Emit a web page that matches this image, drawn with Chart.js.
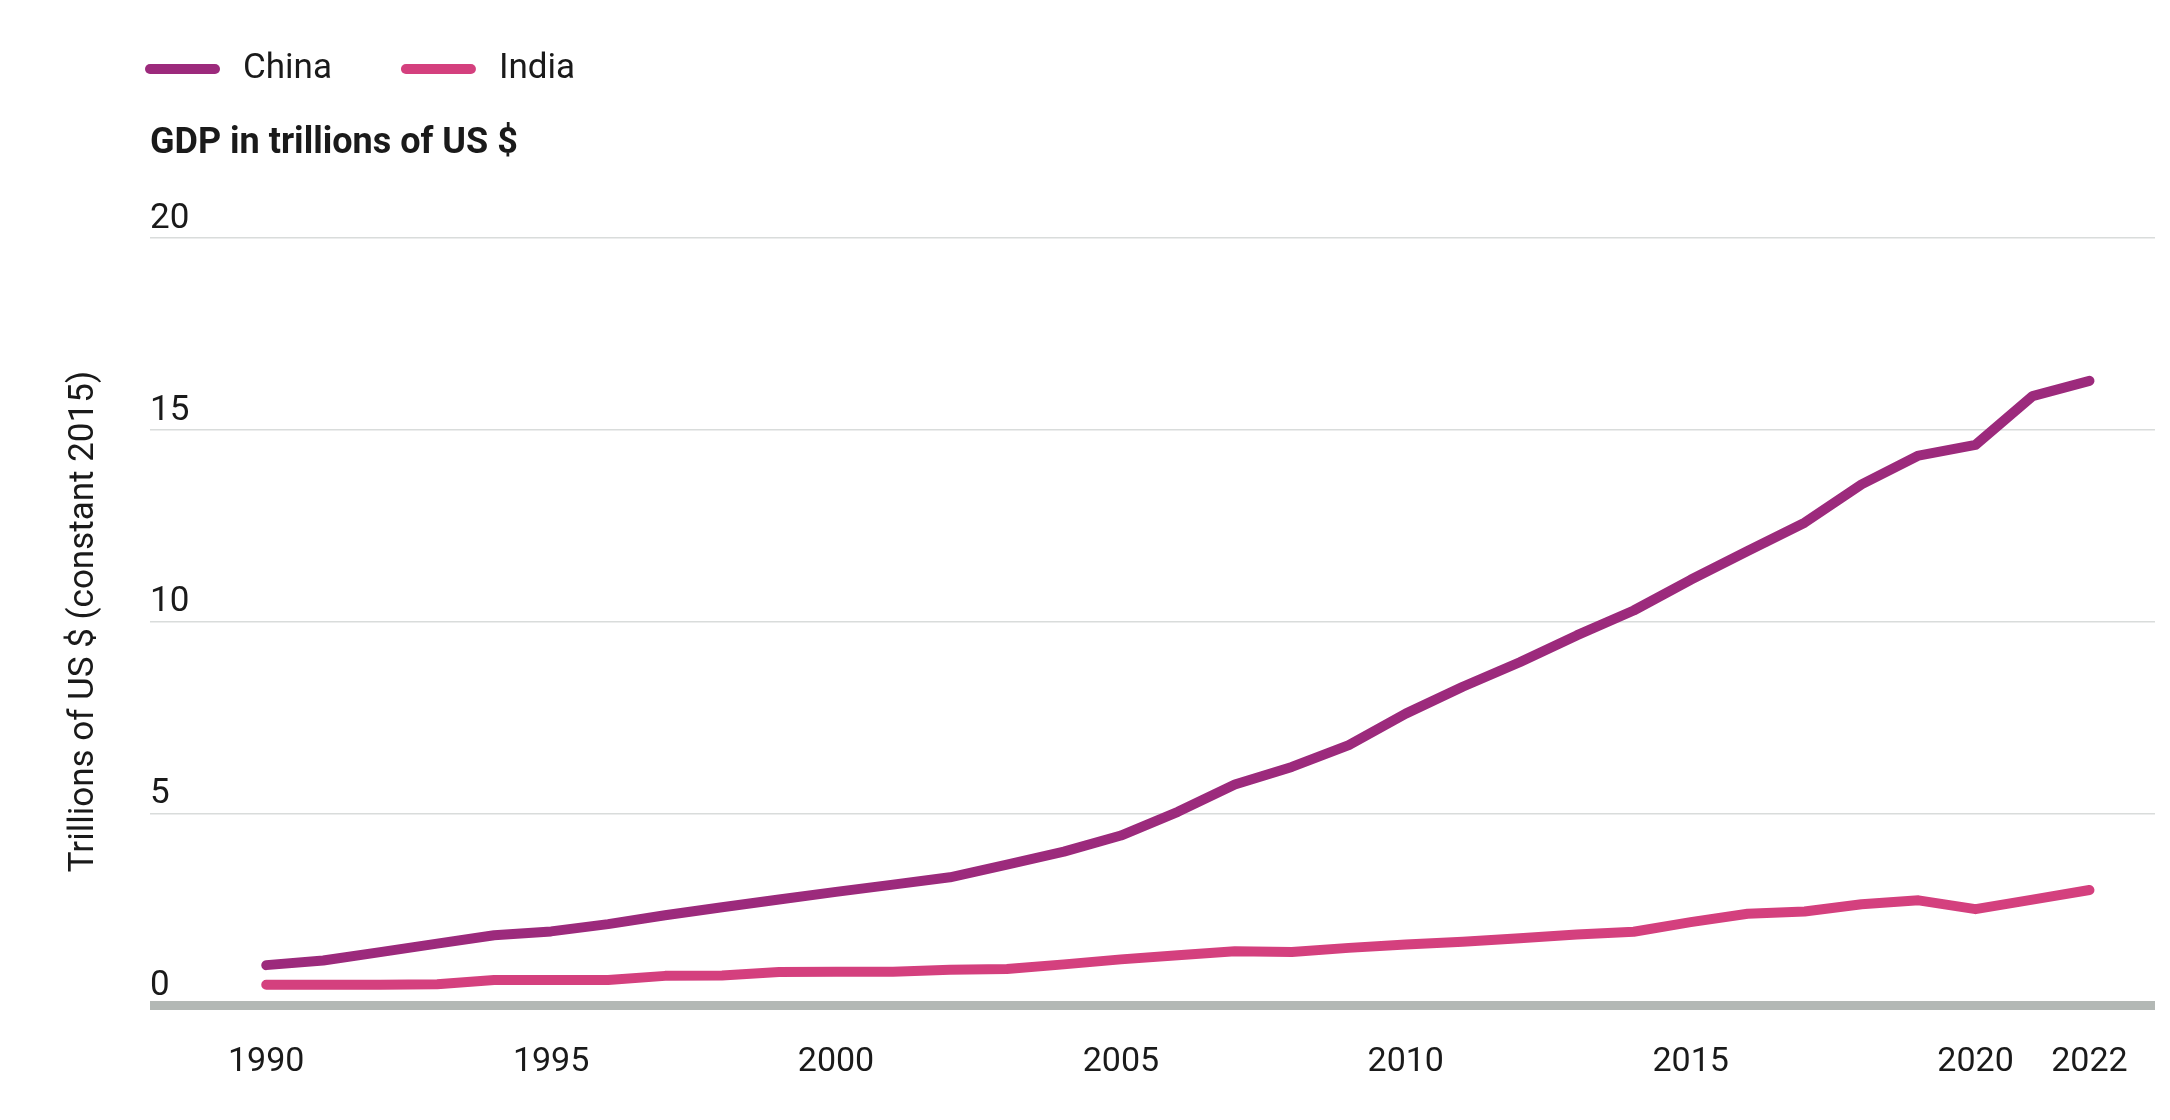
<!DOCTYPE html>
<html>
<head>
<meta charset="utf-8">
<title>GDP China and India</title>
<script src="https://cdn.jsdelivr.net/npm/chart.js@4.4.1/dist/chart.umd.min.js"></script>
<style>
  html, body { margin: 0; padding: 0; background: #fff; }
  #wrap { width: 2170px; height: 1120px; }
</style>
</head>
<body>
<div id="wrap"><canvas id="gdpChart" width="2170" height="1120"></canvas></div>
<script>
const years = [1990, 1991, 1992, 1993, 1994, 1995, 1996, 1997, 1998, 1999, 2000, 2001,
  2002, 2003, 2004, 2005, 2006, 2007, 2008, 2009, 2010, 2011, 2012, 2013, 2014, 2015,
  2016, 2017, 2018, 2019, 2020, 2021, 2022];
const chinaGdp = [1.04, 1.16, 1.38, 1.60, 1.82, 1.92, 2.11, 2.34, 2.55, 2.75, 2.95, 3.14,
  3.33, 3.66, 4.00, 4.42, 5.04, 5.75, 6.21, 6.78, 7.60, 8.30, 8.94, 9.64, 10.29, 11.09,
  11.84, 12.58, 13.58, 14.33, 14.61, 15.88, 16.28];
const indiaGdp = [0.53, 0.53, 0.53, 0.54, 0.65, 0.65, 0.65, 0.76, 0.77, 0.86, 0.87, 0.87,
  0.92, 0.94, 1.06, 1.19, 1.30, 1.40, 1.38, 1.49, 1.58, 1.65, 1.74, 1.84, 1.91, 2.16,
  2.38, 2.44, 2.63, 2.73, 2.50, 2.75, 3.00];
const xTickYears = [1990, 1995, 2000, 2005, 2010, 2015, 2020, 2022];
const yTickValues = [0, 5, 10, 15, 20];
const seriesNames = ["China", "India"];
const chartTitle = "GDP in trillions of US $";
const yAxisTitle = "Trillions of US $ (constant 2015)";

const colors = { china: "#9c2a7c", india: "#d4407e", grid: "#d9dcdb", axis: "#b3b8b5", text: "#1a1a1a" };
const FONT = "Roboto, 'Noto Sans', sans-serif";

Chart.defaults.font.family = FONT;
Chart.defaults.color = colors.text;

function toPoints(values) {
  return years.map((year, i) => ({ x: year, y: values[i] }));
}

// legend drawn as rounded strokes above the title
const lineLegend = {
  id: "lineLegend",
  afterDraw(chart) {
    const { ctx, chartArea } = chart;
    const y = 69;
    let x = chartArea.left;
    ctx.save();
    ctx.font = `35px ${FONT}`;
    ctx.textBaseline = "middle";
    ctx.textAlign = "left";
    chart.data.datasets.forEach((ds) => {
      ctx.strokeStyle = ds.borderColor;
      ctx.lineWidth = 10;
      ctx.lineCap = "round";
      ctx.beginPath();
      ctx.moveTo(x, y);
      ctx.lineTo(x + 65, y);
      ctx.stroke();
      ctx.fillStyle = colors.text;
      ctx.fillText(ds.label, x + 93, y);
      x += 93 + ctx.measureText(ds.label).width + 74;
    });
    ctx.restore();
  },
};

new Chart(document.getElementById("gdpChart"), {
  type: "line",
  data: {
    datasets: [
      {
        label: seriesNames[0],
        data: toPoints(chinaGdp),
        borderColor: colors.china,
        backgroundColor: colors.china,
        borderWidth: 10,
        borderCapStyle: "round",
        borderJoinStyle: "round",
        pointRadius: 0,
        tension: 0,
      },
      {
        label: seriesNames[1],
        data: toPoints(indiaGdp),
        borderColor: colors.india,
        backgroundColor: colors.india,
        borderWidth: 10,
        borderCapStyle: "round",
        borderJoinStyle: "round",
        pointRadius: 0,
        tension: 0,
      },
    ],
  },
  options: {
    responsive: false,
    animation: false,
    devicePixelRatio: 1,
    layout: { padding: { top: 100, right: 15, bottom: 0, left: 0 } },
    plugins: {
      legend: { display: false },
      tooltip: { enabled: false },
      title: {
        display: true,
        text: chartTitle,
        align: "start",
        fullSize: false,
        color: colors.text,
        font: { size: 36, weight: "bold" },
        padding: { top: 22, bottom: 73 },
      },
    },
    scales: {
      x: {
        type: "linear",
        min: 1987.96,
        max: 2023.15,
        afterBuildTicks: (scale) => {
          scale.ticks = xTickYears.map((v) => ({ value: v }));
        },
        afterFit: (scale) => {
          scale.height = 115;
        },
        ticks: {
          autoSkip: false,
          maxRotation: 0,
          padding: 37,
          font: { size: 34 },
          color: colors.text,
          callback: (v) => String(v),
        },
        grid: { display: false, drawTicks: false },
        border: { display: false },
      },
      y: {
        min: 0,
        max: 20,
        afterBuildTicks: (scale) => {
          scale.ticks = yTickValues.map((v) => ({ value: v }));
        },
        afterFit: (scale) => {
          scale.width = 150;
        },
        ticks: {
          mirror: true,
          padding: 0,
          labelOffset: -19,
          font: { size: 35 },
          color: colors.text,
        },
        grid: {
          drawTicks: false,
          color: (c) => (c.tick && c.tick.value === 0 ? colors.axis : colors.grid),
          lineWidth: (c) => (c.tick && c.tick.value === 0 ? 9 : 1.5),
        },
        border: { display: false },
        title: {
          display: true,
          text: yAxisTitle,
          color: colors.text,
          font: { size: 35 },
          padding: { top: 63, bottom: 0 },
        },
      },
    },
  },
  plugins: [lineLegend],
});
</script>
</body>
</html>
